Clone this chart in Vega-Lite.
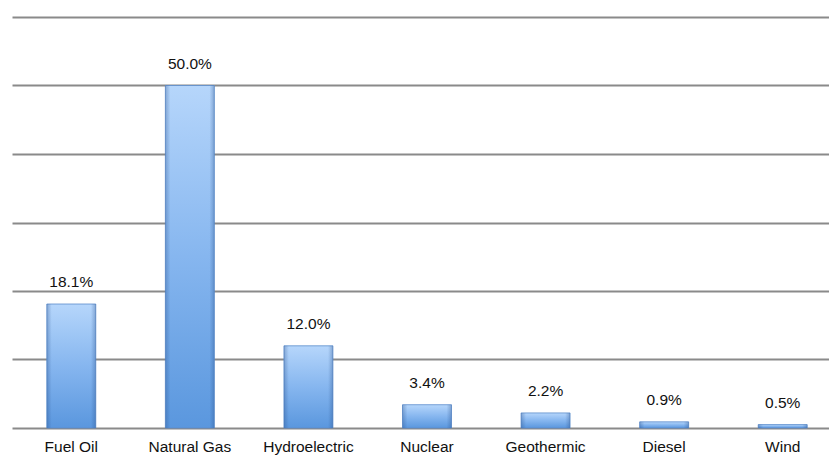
{
  "$schema": "https://vega.github.io/schema/vega-lite/v6.json",
  "width": 830,
  "height": 411,
  "autosize": {"type": "none"},
  "padding": {"left": 12, "top": 17, "right": 0, "bottom": 27},
  "background": "white",
  "config": {
    "view": {"stroke": null},
    "font": "Liberation Sans"
  },
  "data": {
    "values": [
      {"source": "Fuel Oil", "share": 0.181},
      {"source": "Natural Gas", "share": 0.5},
      {"source": "Hydroelectric", "share": 0.12},
      {"source": "Nuclear", "share": 0.034},
      {"source": "Geothermic", "share": 0.022},
      {"source": "Diesel", "share": 0.009},
      {"source": "Wind", "share": 0.005}
    ]
  },
  "encoding": {
    "x": {
      "field": "source",
      "type": "nominal",
      "sort": null,
      "scale": {"paddingInner": 0.587, "paddingOuter": 0.2935},
      "axis": {
        "title": null,
        "labelAngle": 0,
        "labelFont": "Liberation Sans",
        "labelFontSize": 15.5,
        "labelColor": "#111111",
        "labelBaseline": "top",
        "labelPadding": 11,
        "ticks": false,
        "domain": false
      }
    },
    "y": {
      "field": "share",
      "type": "quantitative",
      "scale": {"domain": [0, 0.6], "nice": false},
      "axis": {
        "title": null,
        "labels": false,
        "ticks": false,
        "domain": false,
        "values": [0, 0.1, 0.2, 0.3, 0.4, 0.5, 0.6],
        "gridColor": "#8a8a8a",
        "gridWidth": 1.8,
        "gridOpacity": 1
      }
    }
  },
  "layer": [
    {
      "mark": {
        "type": "bar",
        "stroke": "#5a8ccc",
        "strokeWidth": 0.8,
        "fill": {
          "gradient": "linear",
          "x1": 0, "y1": 0, "x2": 0, "y2": 1,
          "stops": [
            {"offset": 0, "color": "#b6d6fb"},
            {"offset": 0.5, "color": "#86b6ef"},
            {"offset": 1, "color": "#5a97de"}
          ]
        }
      }
    },
    {
      "mark": {
        "type": "bar",
        "fill": {
          "gradient": "linear",
          "x1": 0, "y1": 0, "x2": 1, "y2": 0,
          "stops": [
            {"offset": 0, "color": "rgba(40,80,140,0.35)"},
            {"offset": 0.1, "color": "rgba(40,80,140,0.0)"},
            {"offset": 0.9, "color": "rgba(40,80,140,0.0)"},
            {"offset": 1, "color": "rgba(40,80,140,0.35)"}
          ]
        }
      }
    },
    {
      "mark": {
        "type": "text",
        "baseline": "alphabetic",
        "dy": -17,
        "font": "Liberation Sans",
        "fontSize": 15.5,
        "color": "#111111"
      },
      "encoding": {
        "text": {"field": "share", "type": "quantitative", "format": ".1%"}
      }
    }
  ]
}
